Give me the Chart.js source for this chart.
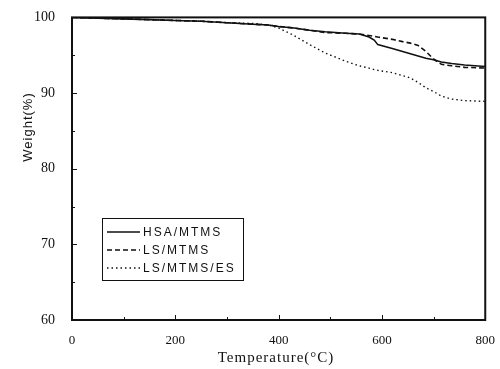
<!DOCTYPE html>
<html>
<head>
<meta charset="utf-8">
<script src="https://cdn.jsdelivr.net/npm/chart.js@4.4.1/dist/chart.umd.min.js"></script>
<style>
  html, body { margin: 0; padding: 0; background: #fff; }
  #wrap { width: 500px; height: 369px; }
</style>
</head>
<body>
<div id="wrap"><canvas id="grafico" width="500" height="369"></canvas></div>
<script>
// temperatura (eixo x)
const temps = [0, 50, 100, 150, 200, 250, 300, 350, 380, 400, 430, 460, 490, 530, 556, 575, 585, 592, 620, 640, 655, 670, 685, 700, 715, 735, 760, 800];

// peso (%) de cada amostra
const hsaMtms = [100, 99.9, 99.8, 99.7, 99.6, 99.5, 99.3, 99.1, 99.0, 98.8, 98.6, 98.3, 98.1, 97.9, 97.8, 97.4, 97.0, 96.4, 95.9, 95.5, 95.2, 94.9, 94.6, 94.4, 94.1, 93.9, 93.7, 93.5];
const lsMtms = [100, 99.9, 99.8, 99.7, 99.6, 99.5, 99.3, 99.1, 99.0, 98.8, 98.6, 98.3, 98.0, 97.9, 97.8, 97.6, 97.5, 97.4, 97.1, 96.8, 96.6, 96.3, 95.5, 94.5, 93.8, 93.6, 93.4, 93.3];
const lsMtmsEs = [100, 99.9, 99.8, 99.7, 99.6, 99.5, 99.3, 99.2, 99.0, 98.6, 97.6, 96.4, 95.3, 94.2, 93.6, 93.3, 93.1, 93.0, 92.7, 92.3, 92.0, 91.4, 90.7, 90.2, 89.6, 89.2, 89.0, 88.9];

const seriesNames = ['HSA/MTMS', 'LS/MTMS', 'LS/MTMS/ES'];
const xTicks = [0, 200, 400, 600, 800];
const yTicks = [60, 70, 80, 90, 100];

const tinta = '#111';
const tracos = [[], [5, 3], [1.5, 3]];

function pontos(ys) {
  return temps.map((t, i) => ({ x: t, y: ys[i] }));
}

// moldura, marcas internas, titulos dos eixos e legenda
const extras = {
  id: 'extras',
  afterDraw(chart) {
    const ctx = chart.ctx;
    const a = chart.chartArea;
    const sx = chart.scales.x;
    const sy = chart.scales.y;
    ctx.save();
    ctx.strokeStyle = tinta;
    ctx.lineWidth = 2;
    ctx.strokeRect(a.left, a.top, a.right - a.left, a.bottom - a.top);

    ctx.lineWidth = 1;
    for (let t = 100; t < 800; t += 100) {
      const px = Math.round(sx.getPixelForValue(t)) + 0.5;
      const len = t % 200 === 0 ? 5 : 3;
      ctx.beginPath();
      ctx.moveTo(px, a.bottom);
      ctx.lineTo(px, a.bottom - len);
      ctx.stroke();
    }
    for (let v = 65; v < 100; v += 5) {
      const py = Math.round(sy.getPixelForValue(v)) + 0.5;
      const len = v % 10 === 0 ? 5 : 3;
      ctx.beginPath();
      ctx.moveTo(a.left, py);
      ctx.lineTo(a.left + len, py);
      ctx.stroke();
    }

    ctx.fillStyle = tinta;
    ctx.textAlign = 'center';
    ctx.textBaseline = 'middle';
    ctx.letterSpacing = '1px';
    ctx.font = '15px "Liberation Serif"';
    ctx.fillText('Temperature(°C)', 276, 358);

    ctx.save();
    ctx.translate(28, 127);
    ctx.rotate(-Math.PI / 2);
    ctx.font = '13px "Liberation Sans"';
    ctx.fillText('Weight(%)', 0, 0);
    ctx.restore();

    // legenda
    const lx = 102, ly = 218, lw = 141, lh = 62;
    ctx.lineWidth = 1;
    ctx.strokeRect(lx + 0.5, ly + 0.5, lw, lh);
    ctx.textAlign = 'left';
    ctx.font = '12px "Liberation Sans"';
    ctx.letterSpacing = '2px';
    seriesNames.forEach((nome, i) => {
      const y = 232 + i * 18;
      ctx.setLineDash(tracos[i]);
      ctx.lineWidth = 1.3;
      ctx.beginPath();
      ctx.moveTo(107, y);
      ctx.lineTo(140, y);
      ctx.stroke();
      ctx.setLineDash([]);
      ctx.fillText(nome, 143, y + 1);
    });
    ctx.restore();
  }
};

const grafico = new Chart(document.getElementById('grafico').getContext('2d'), {
  type: 'line',
  data: {
    datasets: [
      { label: seriesNames[0], data: pontos(hsaMtms), borderDash: tracos[0], borderWidth: 1.6 },
      { label: seriesNames[1], data: pontos(lsMtms), borderDash: tracos[1], borderWidth: 1.6 },
      { label: seriesNames[2], data: pontos(lsMtmsEs), borderDash: tracos[2], borderWidth: 1.4 }
    ].map(d => Object.assign(d, { borderColor: tinta, pointRadius: 0, tension: 0, fill: false }))
  },
  options: {
    responsive: false,
    animation: false,
    layout: { padding: { top: 14, right: 14, left: 0, bottom: 0 } },
    plugins: { legend: { display: false }, tooltip: { enabled: false } },
    scales: {
      x: {
        type: 'linear', min: 0, max: 800,
        afterBuildTicks: s => { s.ticks = xTicks.map(v => ({ value: v })); },
        afterFit: s => { s.height = 49; },
        grid: { display: false },
        border: { display: false },
        ticks: { color: tinta, padding: 5, maxRotation: 0, font: { family: 'Liberation Serif', size: 13 } }
      },
      y: {
        min: 60, max: 100,
        afterBuildTicks: s => { s.ticks = yTicks.map(v => ({ value: v })); },
        afterFit: s => { s.width = 72; },
        grid: { display: false },
        border: { display: false },
        ticks: { color: tinta, padding: 9, font: { family: 'Liberation Serif', size: 14 } }
      }
    }
  },
  plugins: [extras]
});
</script>
</body>
</html>
